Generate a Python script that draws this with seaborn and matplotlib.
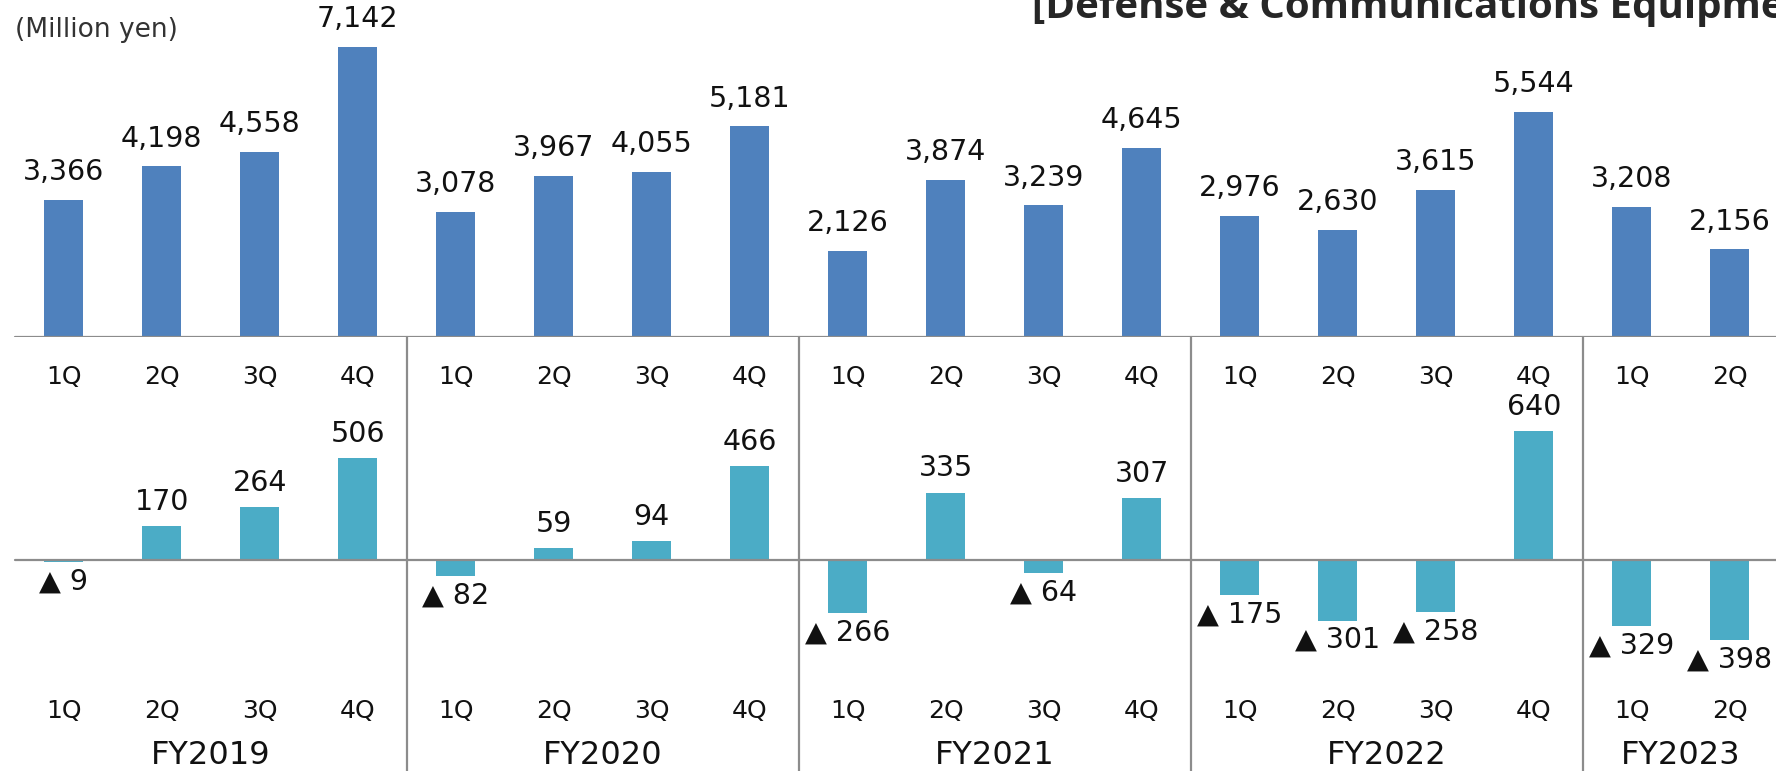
import pandas as pd
import matplotlib.pyplot as plt
import seaborn as sns

# quarterly figures, Defense & Communications Equipment (million yen)
years = ["FY2019", "FY2020", "FY2021", "FY2022", "FY2023"]
quarters_per_year = [4, 4, 4, 4, 2]
quarter_names = ["1Q", "2Q", "3Q", "4Q"]
sales = [3366, 4198, 4558, 7142,
         3078, 3967, 4055, 5181,
         2126, 3874, 3239, 4645,
         2976, 2630, 3615, 5544,
         3208, 2156]
profit = [-9, 170, 264, 506,
          -82, 59, 94, 466,
          -266, 335, -64, 307,
          -175, -301, -258, 640,
          -329, -398]

rows = []
for y, n in zip(years, quarters_per_year):
    for q in quarter_names[:n]:
        rows.append((y, q))
df = pd.DataFrame(rows, columns=["year", "quarter"])
df["period"] = df["year"] + " " + df["quarter"]
df["sales"] = sales
df["profit"] = profit

sns.set_style("white")
plt.rcParams["font.family"] = ["DejaVu Sans"]

W, H = 1776, 771
fig = plt.figure(figsize=(W / 100, H / 100), dpi=100)

# x mapping shared by all axes: category i centred at 63.8 + 98*i px
x0 = -0.5 - 14.8 / 98
x1 = -0.5 + (W - 14.8) / 98
grey = "#8c8c8c"

# top panel: net sales
ax_top = fig.add_axes([0, (H - 337) / H, 1, 337 / H])
sns.barplot(data=df, x="period", y="sales", color="#4f81bd", width=0.4,
            saturation=1, linewidth=0, ax=ax_top, zorder=2)
ax_top.set_ylim(0, 337 / 0.04065)
for i, v in enumerate(df["sales"]):
    ax_top.annotate(f"{v:,}", (i, v), xytext=(0, 20), textcoords="offset points",
                    ha="center", va="center", fontsize=20.5, color="#111111")

# bottom panel: operating income
ax_bot = fig.add_axes([0, (H - 690) / H, 1, 310 / H])
sns.barplot(data=df, x="period", y="profit", color="#4bacc6", width=0.4,
            saturation=1, linewidth=0, ax=ax_bot, zorder=2)
ax_bot.set_ylim(-(690 - 560) / 0.201, (560 - 380) / 0.201)
for i, v in enumerate(df["profit"]):
    if v >= 0:
        ax_bot.annotate(f"{v:,}", (i, v), xytext=(0, 17.5), textcoords="offset points",
                        ha="center", va="center", fontsize=20.5, color="#111111")
    else:
        ax_bot.annotate(f"▲ {abs(v):,}", (i, v), xytext=(0, -14), textcoords="offset points",
                        ha="center", va="center", fontsize=20.5, color="#111111")

for ax in (ax_top, ax_bot):
    ax.set_xlim(x0, x1)
    ax.axhline(0, xmin=(-0.5 - x0) / (x1 - x0), xmax=1, color=grey, lw=1.6, zorder=3)
    ax.set_xlabel("")
    ax.set_ylabel("")
    ax.set_xticks([])
    ax.set_yticks([])
    sns.despine(ax=ax, left=True, bottom=True)
    ax.patch.set_alpha(0)

# overlay for category labels, separators and headings (pixel y)
ov = fig.add_axes([0, 0, 1, 1], zorder=5)
ov.set_xlim(x0, x1)
ov.set_ylim(H, 0)
ov.axis("off")

for i, q in enumerate(df["quarter"]):
    ov.text(i, 377, q, ha="center", va="center", fontsize=18, color="#111111")
    ov.text(i, 711, q, ha="center", va="center", fontsize=18, color="#111111")

start = 0
for y, n in zip(years, quarters_per_year):
    ov.text(start + (n - 1) / 2, 756, y, ha="center", va="center", fontsize=23, color="#111111")
    if start > 0:
        ov.plot([start - 0.5, start - 0.5], [337, H], color=grey, lw=1.6)
    start += n

ov.text(x0 + 15 / 98, 30, "(Million yen)", ha="left", va="center", fontsize=19, color="#333333")
ov.text(x0 + 1032 / 98, 18, "[Defense & Communications Equipment]", ha="left", va="baseline",
        fontsize=29, fontweight="bold", color="#262626", family=["Open Sans", "DejaVu Sans"])

fig.savefig("out.png", dpi=100)
